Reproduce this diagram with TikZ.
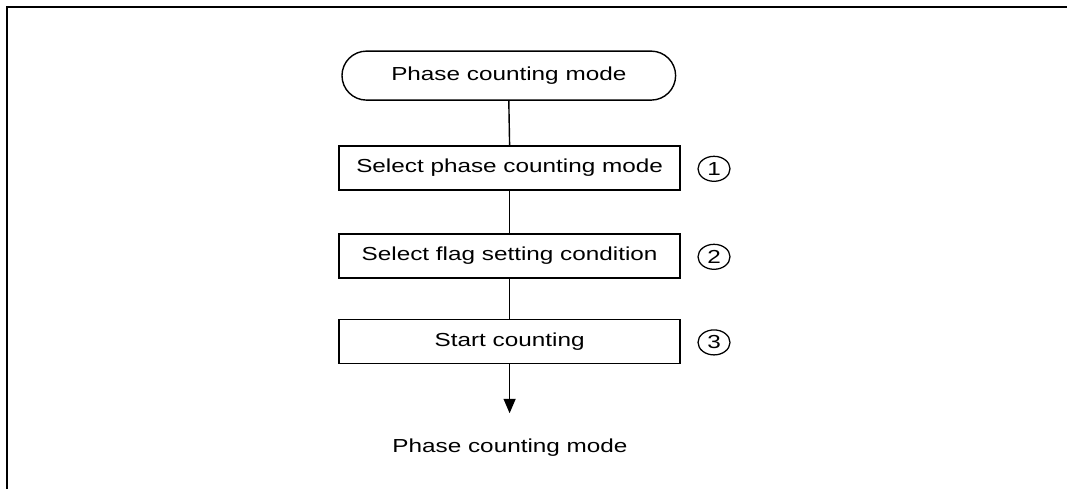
\documentclass[tikz,border=0pt]{standalone}
\usepackage{fontspec}
\setmainfont{Liberation Sans}[FakeStretch=1.29]
\usetikzlibrary{arrows.meta,positioning,shapes.misc,shapes.geometric}

\begin{document}
\begin{tikzpicture}[
    font=\fontsize{13.4}{15}\selectfont,
    >={Triangle[length=3.6mm,width=3mm]},
    termbox/.style={draw, rounded rectangle, minimum width=8.575cm, minimum height=1.225cm, line width=1pt},
    stepbox/.style={draw, minimum width=8.525cm, minimum height=1.1cm, line width=1pt},
    stepnum/.style={draw, ellipse, inner sep=0pt, minimum width=0.8cm, minimum height=0.625cm, line width=0.9pt},
    link/.style={line width=1pt},
    arrow/.style={->, line width=1pt}
  ]
    \useasboundingbox (0,0) rectangle (26.675,-12.225);
    \draw[line width=1.4pt] (0.175,-12.225) -- (0.175,-0.175) -- (26.675,-0.175);

    \node[termbox] (start) at (12.72,-1.89) {Phase counting mode};
    \node[stepbox] (select) at (12.74,-4.2) {Select phase counting mode};
    \node[stepbox] (flag) at (12.74,-6.4) {Select flag setting condition};
    \node[stepbox] (count) at (12.74,-8.54) {Start counting};
    \node[stepnum] (n1) at (17.85,-4.22) {1};
    \node[stepnum] (n2) at (17.85,-6.42) {2};
    \node[stepnum] (n3) at (17.85,-8.56) {3};
    \coordinate (tip) at (12.74,-10.33);
    \node (result) at (12.75,-11.18) {Phase counting mode};

    \draw[link] (start.south) -- (select.north);
    \draw[link] (select.south) -- (flag.north);
    \draw[link] (flag.south) -- (count.north);
    \draw[arrow] (count.south) -- (tip);
  \end{tikzpicture}
\end{document}
